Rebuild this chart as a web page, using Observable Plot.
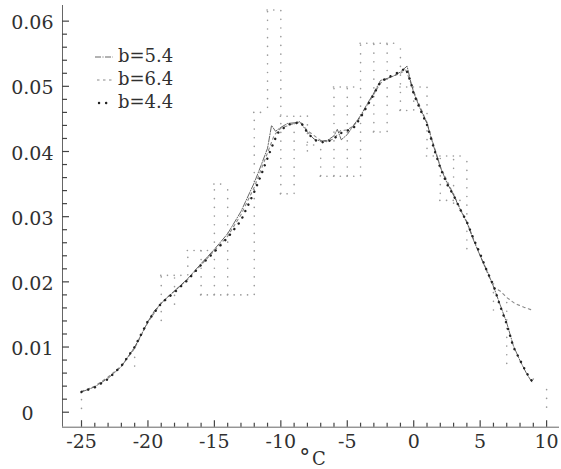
<!DOCTYPE html>
<html>
<head>
<meta charset="utf-8">
<script src="https://cdn.jsdelivr.net/npm/d3@7"></script>
<script src="https://cdn.jsdelivr.net/npm/@observablehq/plot@0.6"></script>
<style>
  html, body { margin: 0; padding: 0; background: #fff; overflow: hidden; }
  #chart svg { display: block; }
</style>
</head>
<body>
<div id="chart"></div>
<script>
// ---------- data ----------
const seriesNames = ["b=5.4", "b=6.4", "b=4.4"];

const s54X = [-25,-24,-23,-22,-21.5,-21,-20.5,-20,-19.5,-19,-18.5,-18,-17,-16,-15,-14,-13,-12,-11.5,-11,-10.7,-10.4,-10,-9.5,-9,-8.6,-8,-7.5,-7,-6.5,-6,-5.75,-5.45,-5,-4.5,-4,-3.5,-3,-2.5,-2,-1.5,-1,-0.5,-0.2,0,0.5,1,1.5,2,2.5,3,3.5,4,4.5,5,5.5,6,6.5,7,7.5,8,8.5,8.9];
const s54Y = [0.0031,0.0039,0.0052,0.0070,0.0085,0.0100,0.0119,0.0139,0.0156,0.0167,0.0177,0.0186,0.0205,0.0228,0.0250,0.0274,0.0308,0.0352,0.0378,0.0405,0.0440,0.0431,0.0437,0.0443,0.0444,0.0446,0.0430,0.0419,0.0416,0.0417,0.0424,0.0434,0.0418,0.0426,0.0441,0.0455,0.0473,0.0490,0.0509,0.0512,0.0516,0.0522,0.0531,0.0505,0.0490,0.0465,0.0443,0.0408,0.0376,0.0352,0.0333,0.0311,0.0291,0.0264,0.0240,0.0218,0.0193,0.0165,0.0137,0.0102,0.0079,0.0059,0.0046];

const s64X = [-25,-24,-23,-22,-21,-20,-19,-18,-17,-16,-15,-14,-13,-12,-11,-10.5,-10,-9,-8.5,-8,-7,-6.5,-6,-5.5,-5,-4.5,-4,-3,-2.5,-2,-1,-0.6,-0.3,0,1,2,3,4,5,6,6.5,7,7.6,8.3,9];
const s64Y = [0.0032,0.0040,0.0054,0.0071,0.0098,0.0138,0.0168,0.0186,0.0204,0.0226,0.0248,0.0270,0.0303,0.0345,0.0398,0.0425,0.0436,0.0443,0.0445,0.0432,0.0417,0.0415,0.0420,0.0432,0.0433,0.0440,0.0453,0.0488,0.0505,0.0512,0.0520,0.0525,0.0510,0.0492,0.0444,0.0377,0.0334,0.0292,0.0240,0.0192,0.0186,0.0176,0.0167,0.0161,0.0156];

const s44X = [-25,-24,-23,-22,-21,-20,-19,-18,-17,-16,-15,-14,-13,-12,-11.5,-11,-10.5,-10.2,-9.5,-9,-8.5,-8,-7.5,-7,-6.5,-6,-5.5,-5,-4.5,-4,-3.5,-3,-2.5,-2,-1.5,-1,-0.6,-0.2,0,0.5,1,1.5,2,2.5,3,3.5,4,4.5,5,5.5,6,6.5,7,7.5,8,8.5,9];
const s44Y = [0.0031,0.0038,0.0051,0.0071,0.0100,0.0140,0.0167,0.0184,0.0203,0.0226,0.0246,0.0268,0.0294,0.0338,0.0363,0.0390,0.0416,0.0429,0.0441,0.0443,0.0445,0.0429,0.0418,0.0414,0.0415,0.0420,0.0428,0.0432,0.0437,0.0452,0.0470,0.0488,0.0507,0.0513,0.0518,0.0523,0.0528,0.0505,0.0488,0.0464,0.0441,0.0406,0.0375,0.0350,0.0333,0.0311,0.0292,0.0266,0.0243,0.0217,0.0195,0.0163,0.0135,0.0100,0.0080,0.0060,0.0045];

// dotted histogram envelope: vertical dotted columns and horizontal dotted rows
const colX  = [-25,-21,-19,-18,-17,-16,-15,-14,-12,-11,-10,-9,-8,-7,-6,-5,-4,-3,-2,-1,0,1,2,3,4,6,7,9,10];
const colLo = [0.0005,0.0070,0.0140,0.0165,0.0210,0.0180,0.0180,0.0180,0.0180,0.0467,0.0335,0.0335,0.0400,0.0362,0.0362,0.0362,0.0362,0.0430,0.0430,0.0463,0.0463,0.0404,0.0335,0.0320,0.0250,0.0156,0.0074,0.0050,0.0007];
const colHi = [0.0031,0.0090,0.0210,0.0210,0.0248,0.0248,0.0350,0.0350,0.0457,0.0617,0.0617,0.0454,0.0454,0.0416,0.0499,0.0499,0.0566,0.0566,0.0566,0.0566,0.0499,0.0499,0.0393,0.0393,0.0393,0.0209,0.0176,0.0060,0.0036];

const rowX1 = [-19,-17,-15,-16,-12,-11,-10,-10,-8,-7,-6,-4,-3,-1,-1,1,2];
const rowX2 = [-17,-15,-14,-12,-11,-10,-8,-9,-7,-4,-4,-1,-2,1,0,4,4];
const rowY  = [0.0210,0.0248,0.0350,0.0180,0.0460,0.0617,0.0454,0.0335,0.0410,0.0362,0.0499,0.0566,0.0430,0.0499,0.0463,0.0393,0.0325];

const xMajor = [-25,-20,-15,-10,-5,0,5,10];
const xMajorLabels = ["-25","-20","-15","-10","-5","0","5","10"];
const yMajor = [0,0.01,0.02,0.03,0.04,0.05,0.06];
const yMajorLabels = ["0","0.01","0.02","0.03","0.04","0.05","0.06"];
const xMinor = d3.range(-25, 11, 1);
const yMinor = d3.range(0, 31, 1).map(k => k * 0.002);

// ---------- layout ----------
const W = 561, H = 469;
const mL = 62, mR = 2, mT = 5, mB = 42.3;
const xDomain = [-26.43, 10.97];
const yDomain = [-0.0023, 0.0624];

const toRows = (xs, ys) => xs.map((x, i) => ({x, y: ys[i]}));
const cols = colX.map((x, i) => ({x, lo: colLo[i], hi: colHi[i]}));
const rows = rowY.map((y, i) => ({x1: rowX1[i], x2: rowX2[i], y}));

const font = "DejaVu Serif";
const ink = "#303030";
const axisInk = "#444";

const chart = Plot.plot({
  width: W, height: H,
  marginLeft: mL, marginRight: mR, marginTop: mT, marginBottom: mB,
  x: {domain: xDomain},
  y: {domain: yDomain},
  style: {fontFamily: font, background: "#fff", color: ink, overflow: "visible"},
  marks: [
    // dotted histogram envelope
    Plot.ruleX(cols, {x: "x", y1: "lo", y2: "hi", stroke: "#9a9a9a", strokeWidth: 1.6, strokeDasharray: "0.1,8.6", strokeLinecap: "round"}),
    Plot.ruleY(rows, {y: "y", x1: "x1", x2: "x2", stroke: "#9a9a9a", strokeWidth: 1.6, strokeDasharray: "0.1,6.6", strokeLinecap: "round"}),
    // density curves
    Plot.line(toRows(s64X, s64Y), {x: "x", y: "y", stroke: "#8a8a8a", strokeWidth: 1.1, strokeDasharray: "2.5,3.5"}),
    Plot.line(toRows(s54X, s54Y), {x: "x", y: "y", stroke: "#555", strokeWidth: 0.9, strokeDasharray: "6,1.5,1,1.5"}),
    Plot.line(toRows(s44X, s44Y), {x: "x", y: "y", stroke: "#222", strokeWidth: 2.4, strokeDasharray: "0.1,7", strokeLinecap: "round"}),
    // axis lines
    Plot.ruleX([xDomain[0]], {stroke: "#666", strokeWidth: 1}),
    Plot.ruleY([yDomain[0]], {stroke: "#666", strokeWidth: 1}),
    // inward ticks (negative tickSize points into the frame), no labels
    Plot.axisX({ticks: xMinor.filter(v => v % 5 !== 0), tickSize: -4, tickFormat: () => "", stroke: axisInk, strokeWidth: 1.2}),
    Plot.axisX({ticks: xMajor, tickSize: -6.5, tickFormat: () => "", stroke: axisInk, strokeWidth: 1.2}),
    Plot.axisY({ticks: yMinor.filter((v, i) => i % 5 !== 0), tickSize: -5, tickFormat: () => "", stroke: axisInk, strokeWidth: 1.2}),
    Plot.axisY({ticks: yMajor, tickSize: -7, tickFormat: () => "", stroke: axisInk, strokeWidth: 1.2}),
    // tick labels
    Plot.axisY({ticks: yMajor.filter(v => v > 0), tickSize: 0, tickPadding: 9, tickFormat: v => yMajorLabels[yMajor.indexOf(v)], fontSize: 19, fill: ink, dy: 2, label: null}),
    Plot.text([0], {y: d => d, frameAnchor: "left", text: () => yMajorLabels[0], textAnchor: "middle", dx: -35, dy: 2, fontSize: 19, fill: ink}),
    Plot.axisX({ticks: xMajor, tickSize: 0, tickPadding: 7, tickFormat: v => xMajorLabels[xMajor.indexOf(v)], fontSize: 19, fill: ink, label: null}),
    // unit label
    Plot.text(["°"], {x: () => -8.2, frameAnchor: "bottom", text: d => d, dy: 37.5, lineAnchor: "bottom", fontSize: 22, fill: ink}),
    Plot.text(["C"], {x: () => -7.13, frameAnchor: "bottom", text: d => d, dy: 37.5, lineAnchor: "bottom", fontSize: 18, fill: ink})
  ]
});

document.getElementById("chart").appendChild(chart);

// ---------- legend ----------
const svg = d3.select(chart);
const lg = svg.append("g").attr("font-family", font).attr("font-size", 18).attr("fill", ink).attr("text-anchor", "start");
const legendStyles = [
  {stroke: "#555", width: 0.9, dash: "6,1.5,1,1.5", cap: "butt", x1: 95, x2: 113},
  {stroke: "#8a8a8a", width: 1.1, dash: "2.5,3.5", cap: "butt", x1: 97, x2: 113},
  {stroke: "#222", width: 2.4, dash: "0.1,7", cap: "round", x1: 99, x2: 107}
];
seriesNames.forEach((name, i) => {
  const st = legendStyles[i];
  const yb = 62 + i * 23;
  lg.append("line").attr("x1", st.x1).attr("x2", st.x2).attr("y1", yb - 5).attr("y2", yb - 5)
    .attr("stroke", st.stroke).attr("stroke-width", st.width).attr("stroke-dasharray", st.dash).attr("stroke-linecap", st.cap);
  lg.append("text").attr("x", 118).attr("y", yb).attr("text-anchor", "start").text(name);
});
</script>
</body>
</html>
